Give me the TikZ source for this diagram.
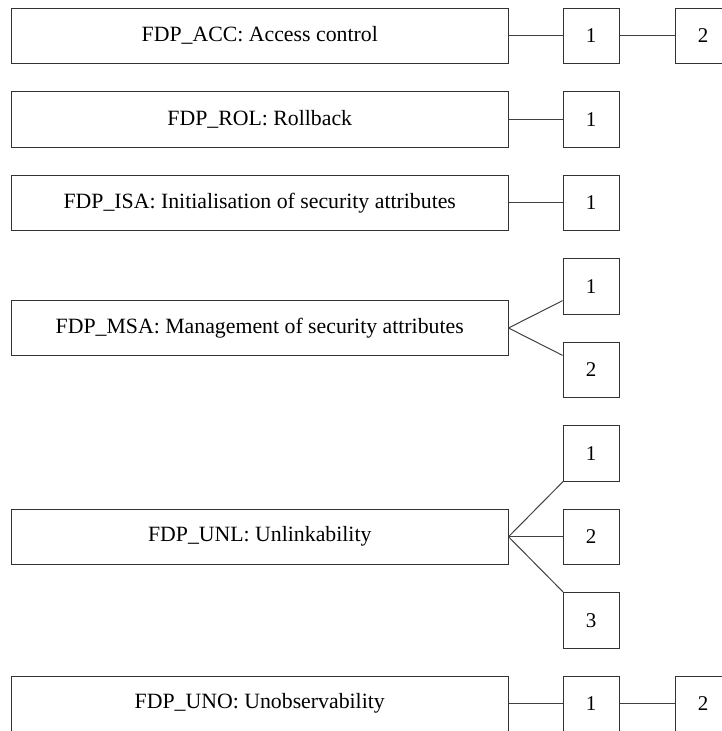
\documentclass[tikz,border=0pt]{standalone}
\usepackage{fontspec}
\setmainfont{Liberation Serif}
\begin{document}
\begin{tikzpicture}[x=1pt,y=-1pt,
  every node/.style={font=\fontsize{21}{24}\selectfont},
  famb/.style={draw=black!80,line width=1pt,inner sep=0pt,minimum width=496.5pt,minimum height=55.5pt,font=\fontsize{21.8}{24}\selectfont},
  compb/.style={draw=black!80,line width=1pt,inner sep=0pt,minimum width=56pt,minimum height=55.5pt},
  lnk/.style={draw=black!75,line width=1pt}]
\useasboundingbox (0,0) rectangle (722,731);
\clip (0,0) rectangle (722,731);
% ACC
\node[famb] (acc) at (259.75,35.75) {FDP\_ACC: Access control};
\node[compb] (acc1) at (591,35.75) {1};
\node[compb] (acc2) at (703,35.75) {2};
\draw[lnk] (acc) -- (acc1);
\draw[lnk] (acc1) -- (acc2);
% ROL
\node[famb] (rol) at (259.75,119.25) {FDP\_ROL: Rollback};
\node[compb] (rol1) at (591,119.25) {1};
\draw[lnk] (rol) -- (rol1);
% ISA
\node[famb] (isa) at (259.75,202.75) {FDP\_ISA: Initialisation of security attributes};
\node[compb] (isa1) at (591,202.75) {1};
\draw[lnk] (isa) -- (isa1);
% MSA
\node[famb] (msa) at (259.75,328) {FDP\_MSA: Management of security attributes};
\node[compb] (msa1) at (591,286.25) {1};
\node[compb] (msa2) at (591,369.75) {2};
\draw[lnk] (msa.east) -- (msa1);
\draw[lnk] (msa.east) -- (msa2);
% UNL
\node[famb] (unl) at (259.75,536.75) {FDP\_UNL: Unlinkability};
\node[compb] (unl1) at (591,453.25) {1};
\node[compb] (unl2) at (591,536.75) {2};
\node[compb] (unl3) at (591,620.25) {3};
\draw[lnk] (unl.east) -- (unl1);
\draw[lnk] (unl.east) -- (unl2);
\draw[lnk] (unl.east) -- (unl3);
% UNO
\node[famb] (uno) at (259.75,703.75) {FDP\_UNO: Unobservability};
\node[compb] (uno1) at (591,703.75) {1};
\node[compb] (uno2) at (703,703.75) {2};
\draw[lnk] (uno) -- (uno1);
\draw[lnk] (uno1) -- (uno2);
\end{tikzpicture}
\end{document}
